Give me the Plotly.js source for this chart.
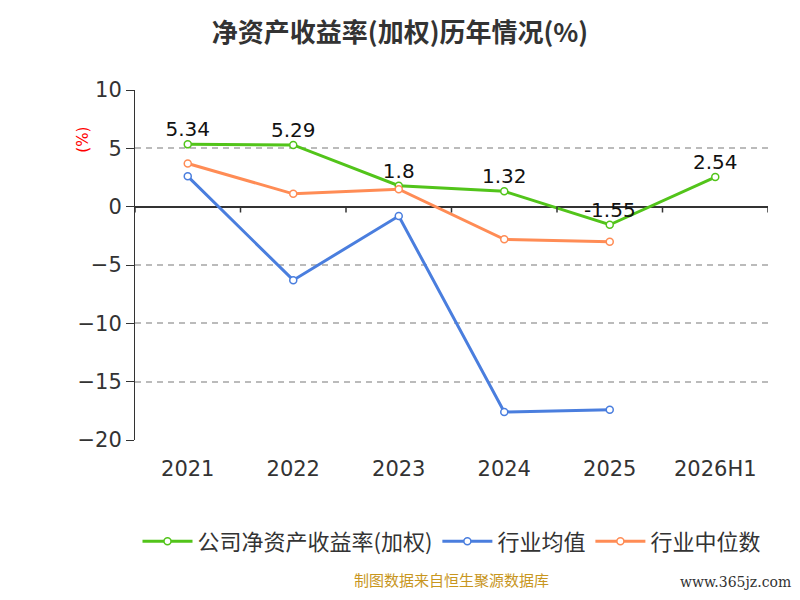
<!DOCTYPE html>
<html><head><meta charset="utf-8">
<script src="https://cdn.plot.ly/plotly-3.0.1.min.js"></script>
</head><body style="margin:0">
<div id="chart" style="width:800px;height:600px"></div>
<script>
const years = ['2021', '2022', '2023', '2024', '2025', '2026H1'];
const companyRoe = [5.34, 5.29, 1.8, 1.32, -1.55, 2.54];
const industryAvg = [2.6, -6.3, -0.8, -17.6, -17.4];
const industryMedian = [3.7, 1.1, 1.5, -2.8, -3.0];

function lineTrace(y, name, color, withText) {
    return {
        x: years.slice(0, y.length), y, name,
        type: 'scatter',
        mode: withText ? 'lines+markers+text' : 'lines+markers',
        text: withText ? y.map(String) : undefined,
        textposition: 'middle center',
        textfont: { size: 20, color: '#111' },
        line: { color, width: 3 },
        marker: { size: 7, color: '#fff', line: { color, width: 1.5 } },
        cliponaxis: false
    };
}

const company = lineTrace(companyRoe, '公司净资产收益率(加权)', '#52c41a', true);
// labels sit just above each point, slightly overlapping the line
company.text = companyRoe.map(v => v + '<br> ');
const traces = [
    company,
    lineTrace(industryAvg, '行业均值', '#4a7ede', false),
    lineTrace(industryMedian, '行业中位数', '#ff8c55', false)
];

const layout = {
    font: { family: 'DejaVu Sans, Noto Sans CJK SC, sans-serif', color: '#333' },
    title: { text: '<b>净资产收益率(加权)历年情况(%)</b>', x: 0.5, y: 0.96, font: { size: 26, color: '#333', family: 'Noto Sans CJK SC' } },
    margin: { l: 135, r: 32, t: 90, b: 160 },
    plot_bgcolor: '#fff',
    xaxis: {
        type: 'category', range: [-0.5, 5.5],
        showgrid: false, showline: false, zeroline: false,
        ticks: 'outside', ticklen: 10, tickcolor: 'rgba(0,0,0,0)',
        tickfont: { size: 21, color: '#333' }
    },
    yaxis: {
        range: [-20, 10], dtick: 5,
        showgrid: true, gridcolor: '#bbb', griddash: '6px,5px', gridwidth: 1.5,
        zeroline: true, zerolinecolor: '#333', zerolinewidth: 1.5,
        showline: true, linecolor: '#333', ticks: 'outside', ticklen: 8, tickcolor: '#333',
        tickfont: { size: 21, color: '#333' }
    },
    showlegend: true,
    legend: {
        orientation: 'h', x: 0.5, xanchor: 'center', y: -0.23, yanchor: 'top',
        font: { size: 22, color: '#333', family: 'Noto Sans CJK SC' }, itemwidth: 50
    },
    annotations: [
        { text: '(%)', xref: 'paper', yref: 'paper', x: -0.1, y: 0.9, textangle: -90, showarrow: false, font: { size: 15, color: 'red' } },
        { text: '制图数据来自恒生聚源数据库', xref: 'paper', yref: 'paper', x: 0.5, y: -0.435, showarrow: false, font: { size: 15, color: '#c8961e', family: 'Noto Sans CJK SC' } },
        { text: 'www.365jz.com', xref: 'paper', yref: 'paper', x: 1.04, xanchor: 'right', y: -0.435, showarrow: false, font: { size: 14, color: '#333', family: 'DejaVu Serif' } }
    ],
    shapes: years.map((_, i) => ({
        type: 'line', xref: 'x', yref: 'y', x0: i - 0.5, x1: i - 0.5, y0: 0, y1: -0.5,
        line: { color: '#333', width: 1.5 }
    })).concat([{ type: 'line', xref: 'x', yref: 'y', x0: 5.5, x1: 5.5, y0: 0, y1: -0.5, line: { color: '#333', width: 1.5 } }])
};

Plotly.newPlot('chart', traces, layout, { displayModeBar: false });
</script>
</body></html>
